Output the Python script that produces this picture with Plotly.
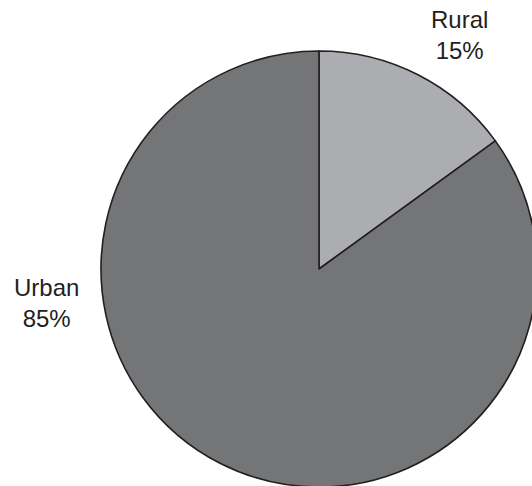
import plotly.graph_objects as go

labels = ["Rural", "Urban"]
values = [15, 85]
colors = ["#abadb0", "#747577"]

W, H = 540, 488
cx, cy, r = 319, 269, 218

fig = go.Figure(go.Pie(
    labels=labels, values=values, sort=False, direction="clockwise", rotation=0,
    marker=dict(colors=colors, line=dict(color="#231f20", width=1.6)),
    textinfo="none", hoverinfo="label+percent", showlegend=False,
    domain=dict(x=[(cx - r) / W, (cx + r) / W], y=[(H - (cy + r)) / H, (H - (cy - r)) / H]),
))

label_pos = {"Rural": (459, 35), "Urban": (46, 303)}
for lab, val in zip(labels, values):
    x, y = label_pos[lab]
    fig.add_annotation(
        text=f"{lab}<br>{val}%", x=x / W, y=1 - y / H, xref="paper", yref="paper",
        xanchor="center", yanchor="middle",
        showarrow=False, align="center",
        font=dict(family="Liberation Sans, Arial, sans-serif", size=24, color="#231f20"),
    )

fig.update_layout(width=W, height=H, margin=dict(l=0, r=0, t=0, b=0),
                  paper_bgcolor="white", plot_bgcolor="white")

fig.write_html("out.html", config={"displayModeBar": False},
               post_script="document.documentElement.style.overflow='hidden';document.body.style.overflow='hidden';document.body.style.margin='0';")
